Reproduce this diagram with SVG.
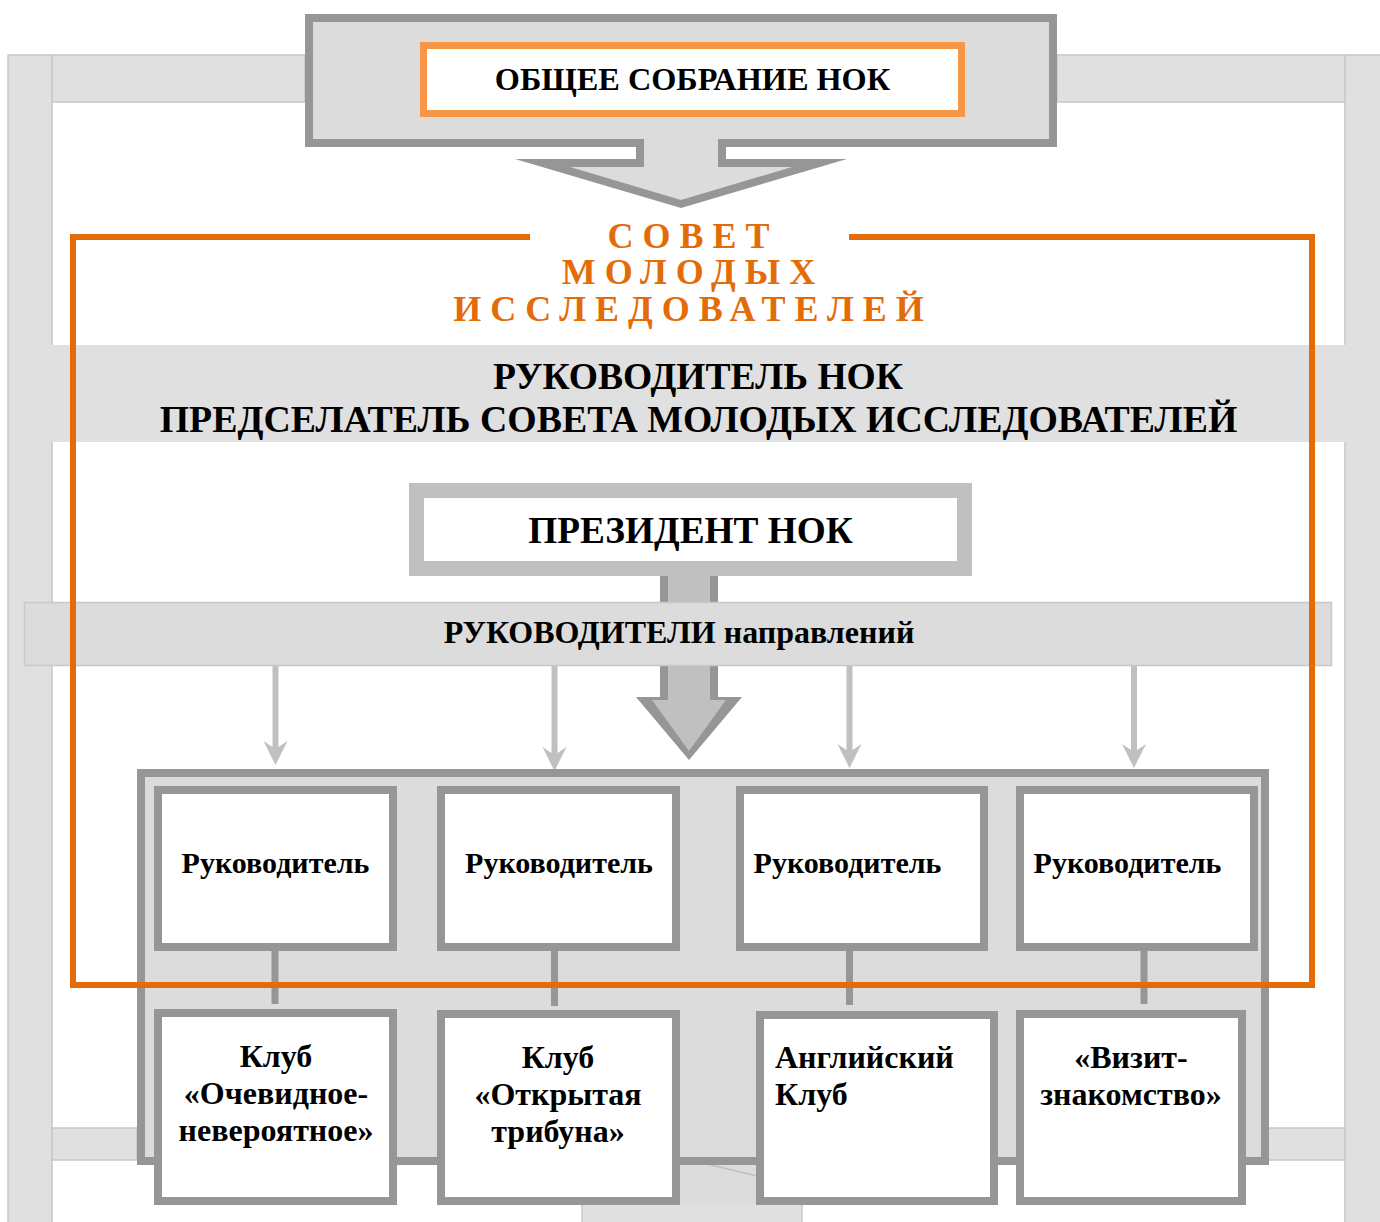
<svg xmlns="http://www.w3.org/2000/svg" width="1380" height="1222" viewBox="0 0 1380 1222">
<style>
.bg{fill:#e0e0e0;stroke:#c8c8c8;stroke-width:1.5}
.dk{fill:#ffffff;stroke:#969696;stroke-width:8}
.t{font-family:"Liberation Serif","Times New Roman",serif;font-weight:bold;fill:#000}
.ttl{font-family:"Liberation Serif","Times New Roman",serif;font-weight:bold;fill:#e36c09;font-size:36px;letter-spacing:9px}
.thin{stroke:#c0c0c0;stroke-width:6;fill:none}
.ah{fill:#c0c0c0}
.stub{stroke:#969696;stroke-width:7}
.or{stroke:#e36c09;stroke-width:6;fill:none}
</style>
<defs>
<path id="head" d="M0,0 L-12,-24 L0,-16 L12,-24 Z"/>
</defs>
<rect width="1380" height="1222" fill="#ffffff"/>
<g id="background">
<rect class="bg" x="8" y="55" width="44" height="1170"/>
<rect class="bg" x="52" y="55" width="253" height="47"/>
<rect class="bg" x="1057" y="55" width="288" height="47"/>
<rect class="bg" x="1345" y="55" width="40" height="1170"/>
<rect class="bg" x="52" y="1128" width="85" height="32"/>
<rect class="bg" x="1268" y="1128" width="77" height="32"/>
<rect class="bg" x="582" y="1203" width="220" height="25"/>
<rect x="680" y="1160" width="77" height="44" fill="#dcdcdc"/>
<line x1="707" y1="1164" x2="757" y2="1176" stroke="#c0c0c0" stroke-width="1.5"/>
</g>
<g id="top-node">
<rect x="309" y="18" width="744" height="125" fill="#dcdcdc" stroke="#969696" stroke-width="8"/>
<polygon points="636,139 636,159 515,159 681,208 847,159 726,159 726,139" fill="#969696"/>
<polygon points="644,135 644,167 570,167 681,200 792,167 718,167 718,135" fill="#dcdcdc"/>
<rect x="423.5" y="45.5" width="538" height="68" fill="#ffffff" stroke="#f79646" stroke-width="7"/>
<text class="t" x="692.5" y="90" font-size="32.3" text-anchor="middle">ОБЩЕЕ СОБРАНИЕ НОК</text>
</g>
<g id="council-title">
<text class="ttl" x="693" y="248" text-anchor="middle">СОВЕТ</text>
<text class="ttl" x="693" y="284" text-anchor="middle">МОЛОДЫХ</text>
<text class="ttl" x="693" y="321" text-anchor="middle">ИССЛЕДОВАТЕЛЕЙ</text>
</g>
<g id="head-band">
<rect x="51" y="345" width="1295" height="97" fill="#e0e0e0"/>
<text class="t" x="698" y="389" font-size="37.6" text-anchor="middle">РУКОВОДИТЕЛЬ НОК</text>
<text class="t" x="698.5" y="432" font-size="37.8" text-anchor="middle">ПРЕДСЕЛАТЕЛЬ СОВЕТА МОЛОДЫХ ИССЛЕДОВАТЕЛЕЙ</text>
</g>
<g id="president">
<rect x="416.5" y="490.5" width="548" height="78" fill="#ffffff" stroke="#c0c0c0" stroke-width="15"/>
<text class="t" x="690.5" y="543" font-size="37.3" text-anchor="middle">ПРЕЗИДЕНТ НОК</text>
</g>
<g id="connectors">
<polygon points="660,576 660,697 636,697 689,760 742,697 718,697 718,576" fill="#969696"/>
<polygon points="668,576 668,700 652,700 689,751 726,700 710,700 710,576" fill="#c0c0c0"/>
<line class="thin" x1="275.5" y1="666" x2="275.5" y2="750"/>
<use href="#head" class="ah" x="275.5" y="765"/>
<line class="thin" x1="554.5" y1="666" x2="554.5" y2="756"/>
<use href="#head" class="ah" x="554.5" y="771"/>
<line class="thin" x1="849.5" y1="666" x2="849.5" y2="753"/>
<use href="#head" class="ah" x="849.5" y="768"/>
<line class="thin" x1="1134" y1="666" x2="1134" y2="753"/>
<use href="#head" class="ah" x="1134" y="768"/>
</g>
<g id="directions-band">
<rect x="24.5" y="602.5" width="1307" height="63" fill="#dcdcdc" stroke="#c8c8c8" stroke-width="1.5"/>
<text class="t" x="679" y="643" font-size="32" text-anchor="middle">РУКОВОДИТЕЛИ направлений</text>
</g>
<g id="container">
<rect x="141" y="773" width="1124" height="388" fill="#dcdcdc" stroke="#969696" stroke-width="8"/>
</g>
<g id="stubs">
<line class="stub" x1="275" y1="948" x2="275" y2="1004"/>
<line class="stub" x1="554.5" y1="948" x2="554.5" y2="1006"/>
<line class="stub" x1="849.5" y1="948" x2="849.5" y2="1005"/>
<line class="stub" x1="1144" y1="948" x2="1144" y2="1004"/>
</g>
<g id="head-1"><rect class="dk" x="158" y="790" width="235" height="157"/><text class="t" x="275.5" y="873" font-size="30" text-anchor="middle">Руководитель</text></g>
<g id="head-2"><rect class="dk" x="441" y="790" width="235" height="157"/><text class="t" x="559" y="873" font-size="30" text-anchor="middle">Руководитель</text></g>
<g id="head-3"><rect class="dk" x="740" y="790" width="244" height="157"/><text class="t" x="847.5" y="873" font-size="30" text-anchor="middle">Руководитель</text></g>
<g id="head-4"><rect class="dk" x="1020" y="790" width="234" height="157"/><text class="t" x="1127.5" y="873" font-size="30" text-anchor="middle">Руководитель</text></g>
<g id="club-1"><rect class="dk" x="158" y="1013" width="235" height="188"/>
<text class="t" font-size="32" text-anchor="middle"><tspan x="276" y="1067">Клуб</tspan><tspan x="276" y="1104">«Очевидное-</tspan><tspan x="276" y="1141">невероятное»</tspan></text></g>
<g id="club-2"><rect class="dk" x="441" y="1014" width="235" height="187"/>
<text class="t" font-size="32" text-anchor="middle"><tspan x="558" y="1068">Клуб</tspan><tspan x="558" y="1105">«Открытая</tspan><tspan x="558" y="1142">трибуна»</tspan></text></g>
<g id="club-3"><rect class="dk" x="760" y="1015" width="234" height="186"/>
<text class="t" font-size="32"><tspan x="775" y="1068">Английский</tspan><tspan x="775" y="1105">Клуб</tspan></text></g>
<g id="club-4"><rect class="dk" x="1020" y="1014" width="222" height="187"/>
<text class="t" font-size="32" text-anchor="middle"><tspan x="1131" y="1068">«Визит-</tspan><tspan x="1131" y="1105">знакомство»</tspan></text></g>
<g id="council-frame">
<path class="or" d="M530,237 H73 V985 H1312 V237 H849"/>
</g>
</svg>
